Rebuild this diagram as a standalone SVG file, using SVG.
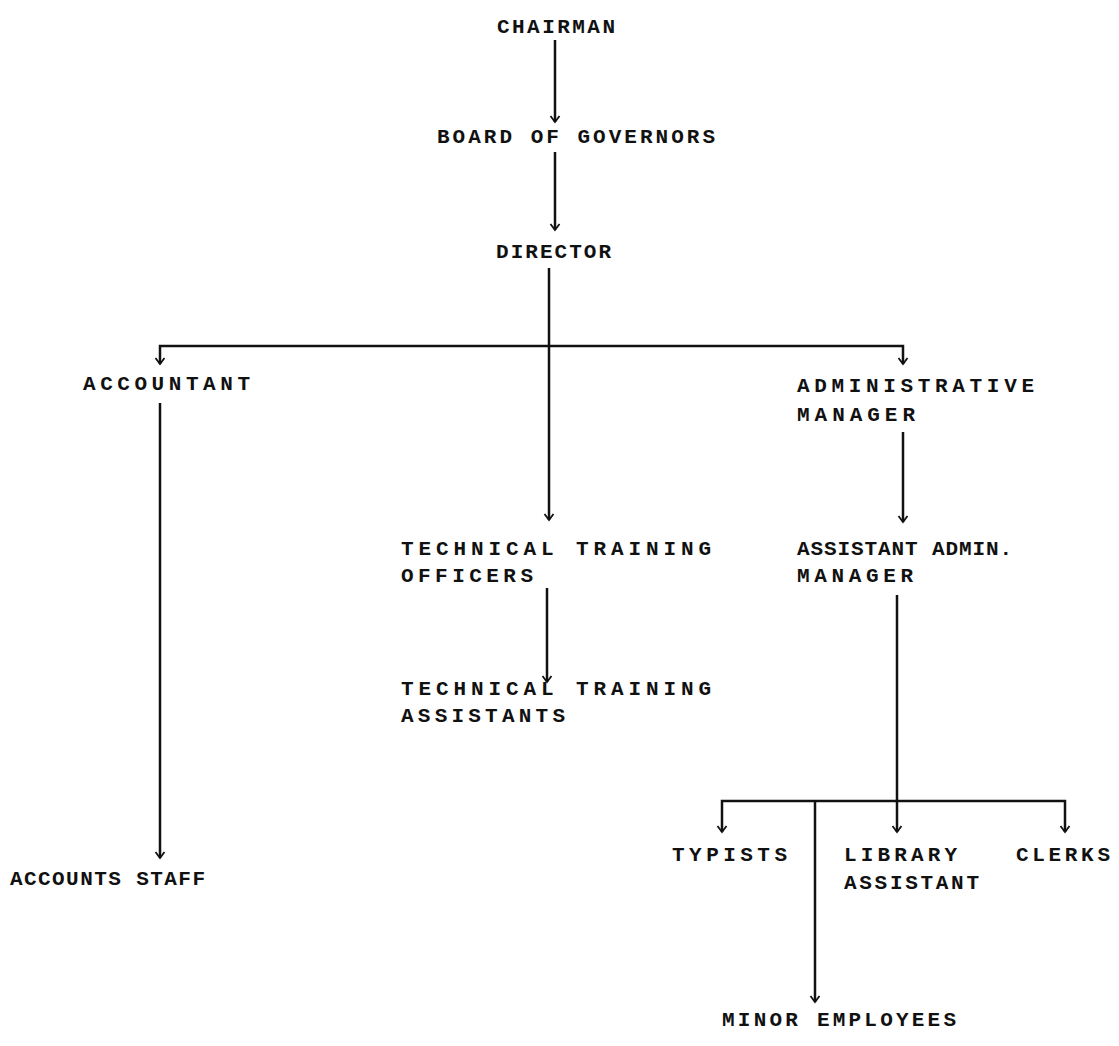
<svg xmlns="http://www.w3.org/2000/svg" width="1119" height="1046" viewBox="0 0 1119 1046">
<style>
text{font-family:"Liberation Mono","DejaVu Sans Mono",monospace;font-size:21px;font-weight:bold;fill:#111;}
.c{stroke:#111;stroke-width:2.5;fill:none;}
</style>
<defs>
<marker id="ah" markerWidth="10" markerHeight="12" refX="8" refY="6" markerUnits="userSpaceOnUse" orient="auto-start-reverse" viewBox="0 0 10 12">
<path d="M2,1.5 L8,6 L2,10.5" fill="none" stroke="#111" stroke-width="1.8"/>
</marker>
</defs>
<rect width="1119" height="1046" fill="#fff"/>
<g id="connectors">
<line class="c" x1="555" y1="40" x2="555" y2="122" marker-end="url(#ah)"/>
<line class="c" x1="555" y1="152" x2="555" y2="230" marker-end="url(#ah)"/>
<line class="c" x1="549" y1="268" x2="549" y2="520" marker-end="url(#ah)"/>
<polyline class="c" points="160,364 160,346 903,346 903,364" marker-start="url(#ah)" marker-end="url(#ah)"/>
<line class="c" x1="160" y1="403" x2="160" y2="858" marker-end="url(#ah)"/>
<line class="c" x1="903" y1="432" x2="903" y2="522" marker-end="url(#ah)"/>
<line class="c" x1="547" y1="588" x2="547" y2="682" marker-end="url(#ah)"/>
<line class="c" x1="897" y1="595" x2="897" y2="832" marker-end="url(#ah)"/>
<polyline class="c" points="722,832 722,801 1065,801 1065,832" marker-start="url(#ah)" marker-end="url(#ah)"/>
<line class="c" x1="815" y1="801" x2="815" y2="1002" marker-end="url(#ah)"/>
</g>
<g id="chairman"><text x="497" y="33" textLength="118" lengthAdjust="spacing">CHAIRMAN</text></g>
<g id="board"><text x="437" y="143" textLength="278" lengthAdjust="spacing">BOARD OF GOVERNORS</text></g>
<g id="director"><text x="496" y="258" textLength="115" lengthAdjust="spacing">DIRECTOR</text></g>
<g id="accountant"><text x="83" y="390" textLength="167" lengthAdjust="spacing">ACCOUNTANT</text></g>
<g id="admin-manager"><text x="797" y="392" textLength="237" lengthAdjust="spacing">ADMINISTRATIVE</text><text x="797" y="421" textLength="118" lengthAdjust="spacing">MANAGER</text></g>
<g id="tto"><text x="401" y="555" textLength="310" lengthAdjust="spacing">TECHNICAL TRAINING</text><text x="401" y="582" textLength="132" lengthAdjust="spacing">OFFICERS</text></g>
<g id="asst-admin"><text x="797" y="555" textLength="215" lengthAdjust="spacing">ASSISTANT ADMIN.</text><text x="797" y="582" textLength="116" lengthAdjust="spacing">MANAGER</text></g>
<g id="tta"><text x="401" y="695" textLength="310" lengthAdjust="spacing">TECHNICAL TRAINING</text><text x="401" y="722" textLength="164" lengthAdjust="spacing">ASSISTANTS</text></g>
<g id="accounts-staff"><text x="10" y="885" textLength="195" lengthAdjust="spacing">ACCOUNTS STAFF</text></g>
<g id="typists"><text x="672" y="861" textLength="115" lengthAdjust="spacing">TYPISTS</text></g>
<g id="library"><text x="844" y="861" textLength="113" lengthAdjust="spacing">LIBRARY</text><text x="844" y="889" textLength="135" lengthAdjust="spacing">ASSISTANT</text></g>
<g id="clerks"><text x="1016" y="861" textLength="94" lengthAdjust="spacing">CLERKS</text></g>
<g id="minor"><text x="722" y="1026" textLength="234" lengthAdjust="spacing">MINOR EMPLOYEES</text></g>
</svg>
